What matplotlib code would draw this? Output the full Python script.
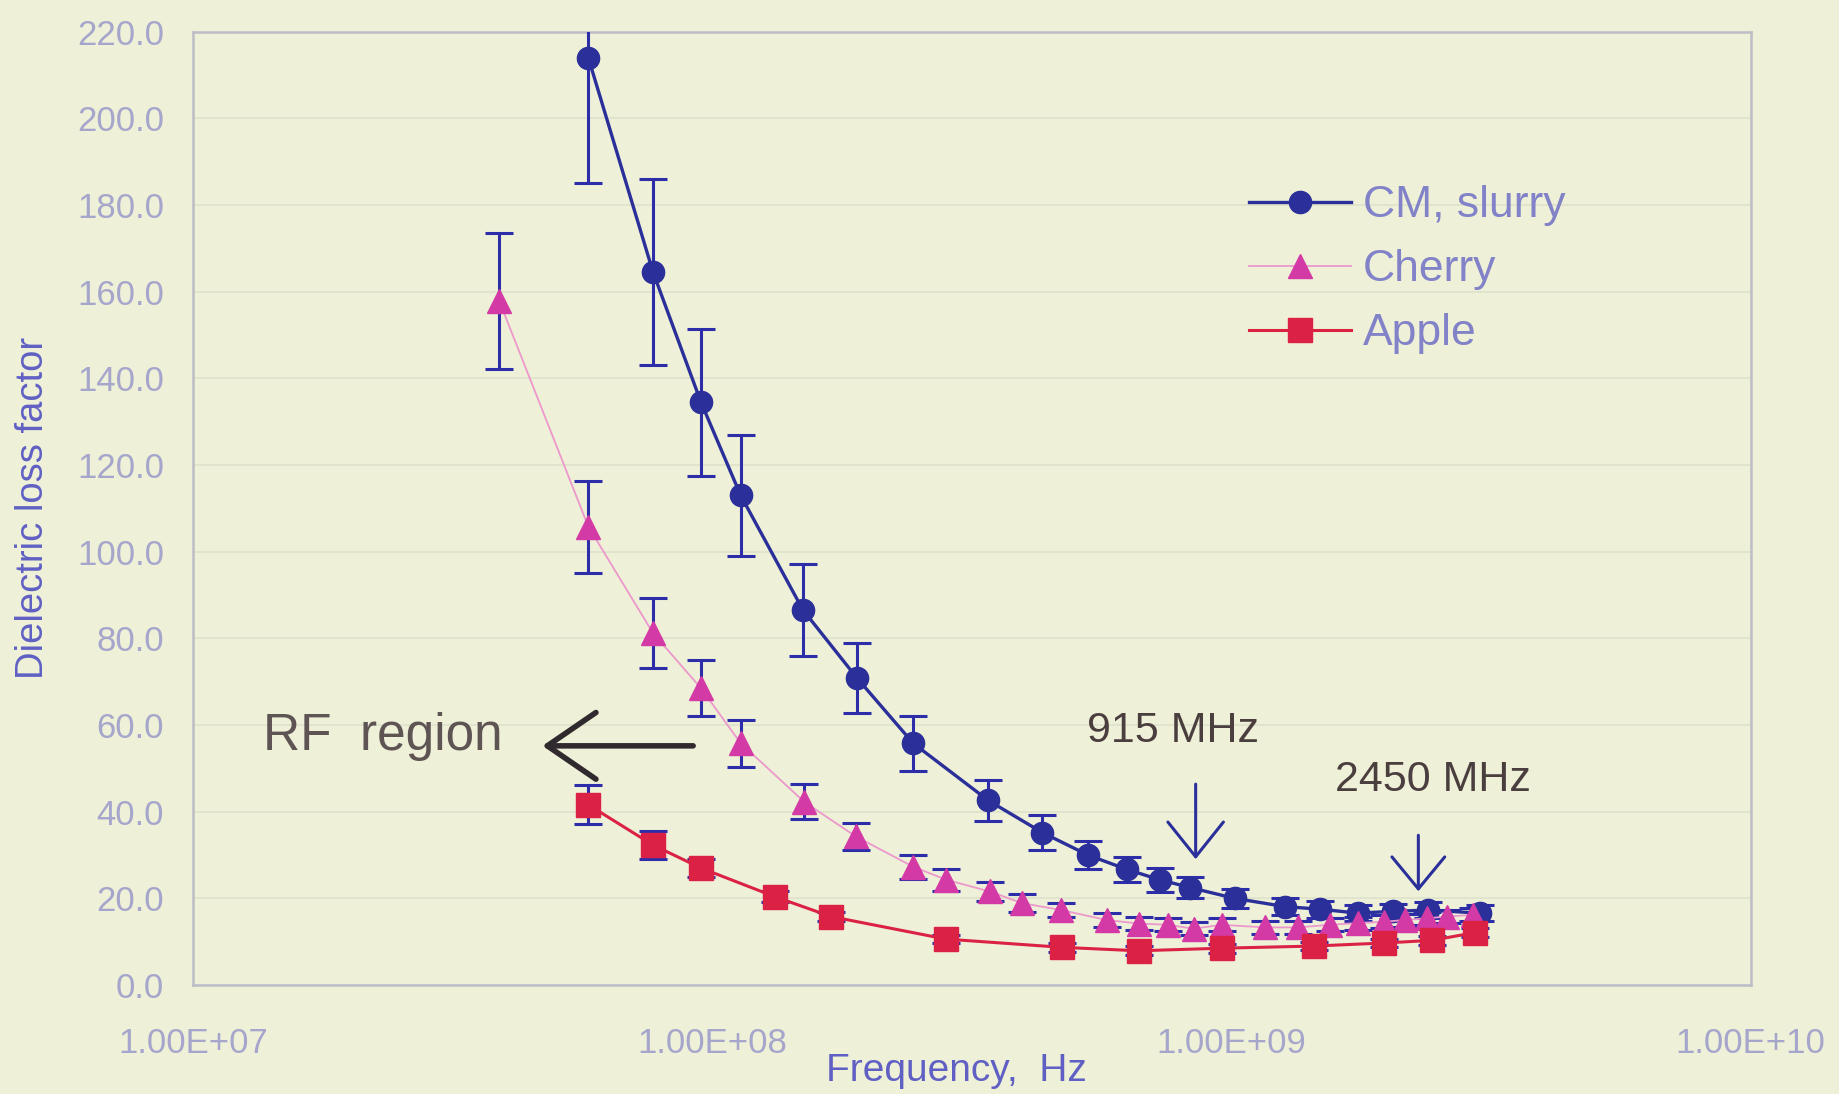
import math
import matplotlib
matplotlib.use('Agg')
import matplotlib.pyplot as plt
from matplotlib import font_manager
from matplotlib.ticker import FixedLocator, FuncFormatter, NullLocator

# frequencies in MHz
cm_freq = [57.7, 76.9, 95.1, 113.4, 149.4, 189.8, 243.7, 340, 432, 529, 628, 727, 832,
           1014, 1268, 1482, 1750, 2046, 2390, 3006]
cm_eps = [214.0, 164.5, 134.5, 113.0, 86.6, 70.9, 55.8, 42.6, 35.2, 30.0, 26.7, 24.3, 22.5,
          20.0, 18.1, 17.5, 16.6, 17.0, 17.3, 16.6]
cm_err = [29.0, 21.5, 17.0, 14.0, 10.6, 8.1, 6.4, 4.8, 4.0, 3.2, 2.9, 2.8, 2.5,
          2.2, 2.0, 2.0, 1.8, 1.8, 1.8, 1.8]

cherry_freq = [38.9, 57.7, 76.9, 95.1, 113.4, 150.2, 188.9, 243.7, 282, 342, 395, 470, 575,
               662, 754, 845, 957, 1160, 1342, 1545, 1750, 1963, 2155, 2378, 2598, 2913]
cherry_eps = [157.8, 105.8, 81.2, 68.5, 55.8, 42.3, 34.3, 27.3, 24.3, 21.6, 18.9, 17.3, 15.0,
              14.2, 13.9, 13.0, 13.9, 13.3, 13.3, 13.9, 14.3, 14.6, 15.0, 15.4, 15.8, 16.2]
cherry_err = [15.7, 10.6, 8.1, 6.5, 5.4, 4.0, 3.2, 2.8, 2.5, 2.2, 2.0, 1.7, 1.7,
              1.5, 1.5, 1.5, 1.5, 1.5, 1.5, 1.5, 1.5, 1.5, 1.5, 1.5, 1.5, 1.5]

apple_freq = [57.7, 76.9, 95.1, 131.9, 169.3, 282, 472, 662, 957, 1444, 1963, 2429, 2944]
apple_eps = [41.6, 32.3, 27.0, 20.4, 15.8, 10.6, 8.7, 7.9, 8.5, 9.0, 9.7, 10.3, 12.1]
apple_err = [4.5, 3.2, 2.0, 1.2, 1.0, 1.0, 1.0, 1.0, 1.0, 1.0, 1.0, 1.0, 1.0]

x_ticks = [1e7, 1e8, 1e9, 1e10]
y_ticks = [0, 20, 40, 60, 80, 100, 120, 140, 160, 180, 200, 220]

bg = '#eef0d7'
navy = '#2a2f9a'
err_col = '#2d2daa'
magenta = '#d43aa6'
pink = '#ec98cc'
red = '#dc2244'
tick_col = '#a6a6cc'
label_col = '#6060c4'
note_col = '#4a3e3e'

plt.rcParams['font.family'] = ['Liberation Sans', 'DejaVu Sans']

# the MHz labels are in a narrow face in the original
names = {f.name for f in font_manager.fontManager.ttflist}
if 'Liberation Sans Narrow' in names:
    mhz_font, mhz_size = 'Liberation Sans Narrow', 37
else:
    mhz_font, mhz_size = 'Liberation Sans', 31

fig = plt.figure(figsize=(18.39, 10.94), dpi=100, facecolor=bg)
ax = fig.add_axes([0.105, 0.0996, 0.847, 0.8714], facecolor=bg)


def mhz(lst):
    return [v * 1e6 for v in lst]


# error bars (all drawn in navy, as in the original)
for fr, ep, er in [(cm_freq, cm_eps, cm_err), (cherry_freq, cherry_eps, cherry_err),
                   (apple_freq, apple_eps, apple_err)]:
    ax.errorbar(mhz(fr), ep, yerr=er, fmt='none', ecolor=err_col, elinewidth=2.2,
                capsize=10, capthick=2.2, zorder=3)

ax.plot(mhz(cm_freq), cm_eps, color=navy, lw=2.4, marker='o', ms=16,
        mfc=navy, mec=navy, label='CM, slurry', zorder=4)
ax.plot(mhz(cherry_freq), cherry_eps, color=pink, lw=1.3, marker='^', ms=17,
        mfc=magenta, mec=magenta, label='Cherry', zorder=5)
ax.plot(mhz(apple_freq), apple_eps, color=red, lw=2.2, marker='s', ms=17,
        mfc=red, mec=red, label='Apple', zorder=6)

ax.set_xscale('log')
ax.set_xlim(1e7, 1e10)
ax.set_ylim(0, 220)
ax.xaxis.set_major_locator(FixedLocator(x_ticks))
ax.xaxis.set_minor_locator(NullLocator())
ax.xaxis.set_major_formatter(FuncFormatter(lambda v, p: '1.00E+%02d' % round(math.log10(v))))
ax.set_yticks(y_ticks)
ax.yaxis.set_major_formatter(FuncFormatter(lambda v, p: '%.1f' % v))
ax.tick_params(axis='both', length=0, labelcolor=tick_col, labelsize=25)
ax.tick_params(axis='y', pad=21)
ax.tick_params(axis='x', pad=30)

ax.grid(axis='y', color='#dfe2cc', lw=1.2)
ax.set_axisbelow(True)
for s in ax.spines.values():
    s.set_color('#bdbdc8')
    s.set_linewidth(1.8)

ax.set_ylabel('Dielectric loss factor', color=label_col, fontsize=27.5)
ax.yaxis.set_label_coords(-0.091, 0.5)
ax.set_xlabel('Frequency,  Hz', color=label_col, fontsize=28)
ax.xaxis.set_label_coords(0.49, -0.071)

leg = ax.legend(loc='upper left', bbox_to_anchor=(0.652, 0.881), frameon=False,
                fontsize=32, handlelength=2.3, labelspacing=0.52, handletextpad=0.27)
for t in leg.get_texts():
    t.set_color('#8282c8')

# RF region annotation
ax.text(2.32e7, 57.4, 'RF  region', fontsize=37, color='#5e5454', ha='center', va='center')
ax.annotate('', xy=(4.65e7, 55.2), xytext=(9.3e7, 55.2),
            arrowprops=dict(arrowstyle='->,head_length=3.5,head_width=2.4', color='#302a2e',
                            lw=4, mutation_scale=10), zorder=7)

# microwave frequency markers
ax.text(7.73e8, 58.7, '915 MHz', fontsize=mhz_size, family=mhz_font, color=note_col,
        ha='center', va='center')
ax.annotate('', xy=(8.53e8, 28.4), xytext=(8.53e8, 47.0),
            arrowprops=dict(arrowstyle='->,head_length=2.5,head_width=2.0', color=navy,
                            lw=2.2, mutation_scale=10))
ax.text(2.44e9, 47.4, '2450 MHz', fontsize=mhz_size, family=mhz_font, color=note_col,
        ha='center', va='center')
ax.annotate('', xy=(2.29e9, 21.0), xytext=(2.29e9, 35.2),
            arrowprops=dict(arrowstyle='->,head_length=2.3,head_width=1.9', color=navy,
                            lw=2.2, mutation_scale=10))

fig.savefig('out.png', dpi=100, facecolor=bg)
